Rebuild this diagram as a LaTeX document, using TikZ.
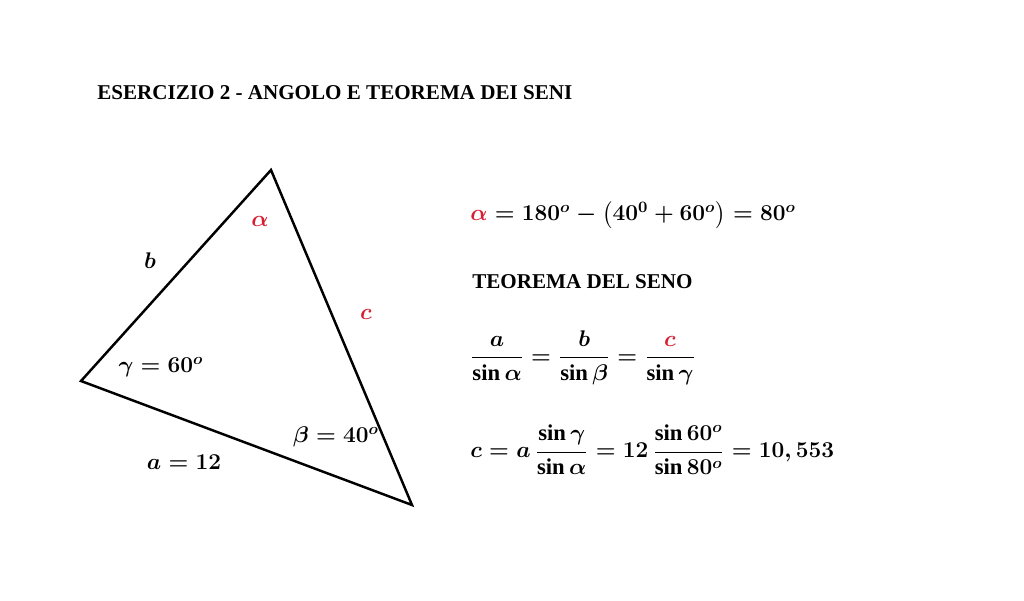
\RequirePackage{fix-cm}
\documentclass[tikz,border=0pt]{standalone}
\usepackage{amsmath,amssymb}
\usepackage{fontspec}
\setmainfont{Liberation Serif}
\usepackage{tikz}
\usetikzlibrary{positioning, calc}
\definecolor{segnored}{RGB}{214,30,50}

\begin{document}
\boldmath
\begin{tikzpicture}[x=0.02cm, y=-0.02cm,
		lato/.style={line width=1.4pt, line join=miter},
		scritta/.style={anchor=west, inner sep=0pt, font=\fontsize{12}{14}\selectfont\bfseries},
		eq/.style={anchor=west, inner sep=0pt, font=\fontsize{12.9}{15}\selectfont\bfseries},
		etichetta/.style={inner sep=0pt, font=\fontsize{12.9}{15}\selectfont\bfseries}]
		\useasboundingbox (0,0) rectangle (1024,601);
		
		\node[scritta] (titolo) at (97,93) {ESERCIZIO 2 - ANGOLO E TEOREMA DEI SENI};
		
		% vertici del triangolo
		\coordinate (A) at (271,170);
		\coordinate (C) at (81,381);
		\coordinate (B) at (412,505);
		\draw[lato] (A) -- (C) -- (B) -- cycle;
		
		\node[etichetta, text=segnored] (alfa) at (260,221) {$\alpha$};
		\node[etichetta] (lb) at (150,261) {$b$};
		\node[etichetta, text=segnored] (lc) at (366,314) {$c$};
		\node[etichetta] (gamma) at (161,367) {$\gamma = 60^{o}$};
		\node[etichetta] (beta) at (336,437) {$\beta = 40^{o}$};
		\node[etichetta] (la) at (184,462) {$a = 12$};
		
		\node[eq] (somma) at (470,215) {$\textcolor{segnored}{\alpha} = 180^{o} - \bigl(40^{0} + 60^{o}\bigr) = 80^{o}$};
		\node[scritta] (teorema) at (472,282) {TEOREMA DEL SENO};
		\node[eq] (rapporti) at (470,358) {$\dfrac{a}{\sin\alpha} = \dfrac{b}{\sin\beta} = \dfrac{\textcolor{segnored}{c}}{\sin\gamma}$};
		\node[eq] (risultato) at (470,450) {$c = a\,\dfrac{\sin\gamma}{\sin\alpha} = 12\,\dfrac{\sin 60^{o}}{\sin 80^{o}} = 10,553$};
	\end{tikzpicture}
\end{document}
